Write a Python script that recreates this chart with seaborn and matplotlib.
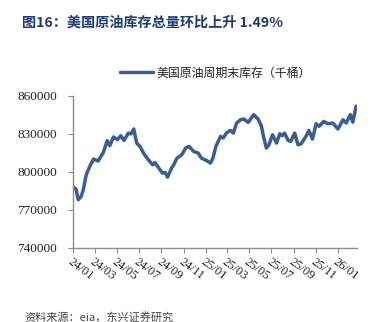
import matplotlib
matplotlib.use("Agg")
import matplotlib.pyplot as plt
import matplotlib.dates as mdates
import matplotlib.transforms as mtransforms
import pandas as pd
import seaborn as sns

# Weekly total US crude inventory (thousand barrels)
dates = [
    "2024-01-01", "2024-01-10", "2024-01-16", "2024-01-24", "2024-01-30",
    "2024-02-07", "2024-02-16", "2024-02-27", "2024-03-11", "2024-03-25",
    "2024-04-05", "2024-04-12", "2024-04-22", "2024-05-03", "2024-05-12",
    "2024-05-21", "2024-06-02", "2024-06-09", "2024-06-17", "2024-06-25",
    "2024-07-04", "2024-07-15", "2024-07-27", "2024-08-08", "2024-08-14",
    "2024-08-23", "2024-09-04", "2024-09-11", "2024-09-18", "2024-09-29",
    "2024-10-05", "2024-10-14", "2024-10-27", "2024-11-07", "2024-11-16",
    "2024-11-29", "2024-12-11", "2024-12-20", "2025-01-03", "2025-01-14",
    "2025-01-21", "2025-01-29", "2025-02-11", "2025-02-18", "2025-02-27",
    "2025-03-10", "2025-03-18", "2025-03-27", "2025-04-07", "2025-04-16",
    "2025-04-28", "2025-05-13", "2025-05-25", "2025-06-03", "2025-06-10",
    "2025-06-17", "2025-06-24", "2025-07-04", "2025-07-15", "2025-07-24",
    "2025-07-31", "2025-08-06", "2025-08-16", "2025-08-23", "2025-09-03",
    "2025-09-12", "2025-09-21", "2025-10-05", "2025-10-12", "2025-10-22",
    "2025-11-01", "2025-11-09", "2025-11-22", "2025-12-03", "2025-12-17",
    "2025-12-31", "2026-01-14", "2026-01-23", "2026-02-03", "2026-02-10",
    "2026-02-19",
]
inventory = [
    788400, 786300, 778000, 780500, 785800,
    797600, 803700, 810000, 808500, 815200,
    824500, 820500, 827400, 825300, 828400,
    824700, 830500, 829800, 833700, 822600,
    820000, 814200, 809500, 805500, 807300,
    803700, 799000, 799500, 795800, 802900,
    805500, 810800, 813400, 818700, 820000,
    816000, 814800, 810800, 808900, 806900,
    810800, 820000, 827900, 826600, 830500,
    832600, 830500, 838400, 841000, 841600,
    838900, 845000, 841600, 836300, 826600,
    818700, 821300, 829200, 822600, 830000,
    828400, 830500, 824700, 823900, 830500,
    821300, 822100, 828400, 832600, 825800,
    837900, 835800, 839700, 837900, 838400,
    833700, 841000, 838400, 845000, 839100,
    851600,
]
series_name = "美国原油周期末库存（千桶）"
title_text = "图16：美国原油库存总量环比上升 1.49%"
source_text = "资料来源：eia，东兴证券研究"
y_ticks = [740000, 770000, 800000, 830000, 860000]

df = pd.DataFrame({"date": pd.to_datetime(dates), "value": inventory, "series": series_name})

sns.set_theme(style="white")
plt.rcParams["font.family"] = ["Noto Sans CJK SC", "DejaVu Sans"]

fig = plt.figure(figsize=(3.87, 3.22), dpi=100)
ax = fig.add_axes([0.188, 0.230, 0.734, 0.473])

sns.lineplot(data=df, x="date", y="value", hue="series", palette=["#3A5E94"],
             linewidth=2.5, ax=ax, legend=True)

ax.set_xlim(pd.Timestamp("2024-01-01"), pd.Timestamp("2026-02-21"))
ax.set_ylim(740000, 860000)
ax.set_yticks(y_ticks)
ax.set_yticklabels([str(v) for v in y_ticks], family="Liberation Serif", fontsize=9.5, color="#222222")

ax.xaxis.set_major_locator(mdates.MonthLocator(bymonth=[1, 3, 5, 7, 9, 11]))
ax.xaxis.set_major_formatter(mdates.DateFormatter("%y/%m"))
shift = mtransforms.ScaledTranslation(3 / 100, -2 / 100, fig.dpi_scale_trans)
for lab in ax.get_xticklabels():
    lab.set_family("Liberation Serif")
    lab.set_fontsize(9)
    lab.set_rotation(-37)
    lab.set_rotation_mode("anchor")
    lab.set_ha("left")
    lab.set_va("top")
    lab.set_color("#222222")
    lab.set_transform(lab.get_transform() + shift)

ax.set_xlabel("")
ax.set_ylabel("")
for side in ["top", "right"]:
    ax.spines[side].set_visible(False)
for side in ["left", "bottom"]:
    ax.spines[side].set_color("#8C8C8C")
    ax.spines[side].set_linewidth(1.0)
ax.tick_params(axis="both", which="major", length=3.5, width=0.8, color="#8C8C8C",
               direction="out", left=True, bottom=True, pad=2)
ax.tick_params(axis="y", pad=8)

leg = ax.legend(loc="center", bbox_to_anchor=(0.557, 0.773), bbox_transform=fig.transFigure,
                frameon=False, fontsize=8.6, handlelength=2.75, handletextpad=0.25)
for t in leg.get_texts():
    t.set_color("#222222")

fig.text(0.057, 0.930, title_text, fontsize=10.2, fontweight="bold", color="#1F3D73",
         ha="left", va="center")
fig.text(0.062, 0.016, source_text, fontsize=8, color="#444444", ha="left", va="center")

fig.savefig("out.png", dpi=100, facecolor="white")
